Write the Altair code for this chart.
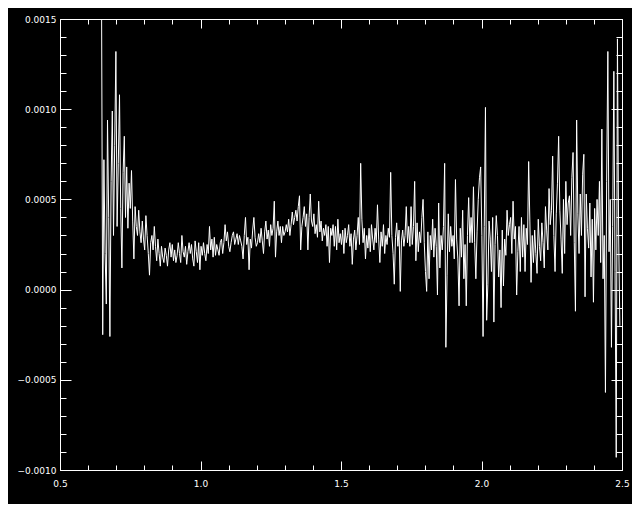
import altair as alt
import pandas as pd
import numpy as np

# sample grid (evenly spaced abscissa)
x_start = 0.6477
x_step = 0.004270

# signal values, in units of 1e-4
y_e4 = [
    17.0, -2.5, 7.2, 2.0, -0.8, 9.4, 4.0, -2.6, 6.0, 9.9,
    3.0, 8.0, 13.2, 3.5, 7.0, 10.8, 4.5, 1.2, 6.5, 8.5,
    4.0, 6.8, 3.4, 5.9, 4.5, 6.6, 3.8, 1.7, 4.6, 3.5,
    3.0, 4.4, 3.2, 2.6, 3.8, 2.8, 2.2, 4.1, 3.0, 2.0,
    0.8, 2.6, 3.0, 2.2, 3.5, 2.4, 1.6, 2.8, 2.0, 1.3,
    2.4, 1.8, 1.5, 2.3, 1.9, 1.3, 2.2, 2.6, 1.8, 2.5,
    1.6, 2.2, 1.5, 1.9, 2.6, 2.0, 1.5, 3.0, 2.1, 1.8,
    2.4, 1.4, 2.1, 2.6, 2.0, 2.5, 1.7, 1.3, 2.7, 2.1,
    1.5, 2.6, 1.1, 2.4, 1.9, 2.6, 2.0, 1.6, 2.5, 2.0,
    3.5, 2.2, 2.8, 1.8, 2.9, 1.9, 2.5, 2.2, 1.9, 2.6,
    2.8, 2.0, 2.6, 3.6, 2.7, 3.2, 2.4, 2.1, 2.6, 3.0,
    3.2, 2.5, 2.8, 3.1, 2.5, 3.0, 2.7, 2.4, 1.7, 3.0,
    4.0, 2.5, 2.9, 1.1, 2.8, 2.3, 3.3, 4.0, 2.9, 2.4,
    2.6, 3.1, 2.6, 3.4, 2.7, 2.0, 3.2, 3.8, 2.8, 3.3,
    2.4, 3.6, 3.0, 3.4, 4.9, 1.8, 3.2, 3.8, 3.0, 3.5,
    2.6, 3.5, 3.0, 3.2, 3.6, 3.2, 3.9, 3.0, 3.6, 4.3,
    3.6, 4.0, 4.4, 3.8, 4.6, 5.2, 2.2, 3.5, 4.0, 4.6,
    3.5, 4.2, 2.2, 4.0, 5.3, 3.8, 3.5, 4.2, 3.1, 3.6,
    2.9, 4.9, 3.2, 3.8, 2.7, 3.4, 3.0, 3.6, 2.4, 3.5,
    1.5, 3.4, 3.0, 3.6, 2.4, 3.5, 2.2, 3.9, 2.6, 3.1,
    2.5, 3.3, 2.0, 3.4, 2.6, 3.0, 3.6, 2.4, 3.1, 1.4,
    2.8, 3.3, 2.2, 3.0, 4.0, 2.5, 7.0, 3.9, 2.6, 3.4,
    1.7, 3.0, 2.3, 3.4, 2.1, 3.6, 2.8, 2.2, 3.4, 2.6,
    4.7, 2.8, 1.5, 3.2, 2.4, 3.6, 2.0, 3.0, 2.5, 3.4,
    2.9, 6.5, 3.0, 2.0, 0.3, 2.9, 3.7, 2.4, 3.3, -0.1,
    2.7, 3.3, 2.4, 3.0, 4.6, 2.6, 3.5, 2.4, 4.6, 2.5,
    3.5, 6.0, 1.6, 3.7, 2.1, 3.2, 2.6, 4.0, 5.0, 2.6,
    1.0, -0.1, 3.2, 0.6, 3.0, 2.2, 3.9, 1.8, 3.4, 2.4,
    -0.3, 4.8, 1.2, 3.0, 2.2, 3.5, 7.0, -3.2, 0.8, 4.2,
    2.1, 3.5, 2.4, 3.0, 1.7, 6.1, 2.8, 1.7, -0.9, 3.4,
    1.8, 4.4, 0.6, 2.5, -0.9, 3.0, 5.1, 2.6, 4.0, 2.6,
    5.7, 2.6, 0.6, 3.2, 5.0, 6.2, 6.8, 3.0, -2.6, 3.5,
    10.1, -1.7, 0.3, 3.8, 2.8, 1.0, 4.0, -1.8, 2.5, 4.1,
    3.0, 0.7, 2.2, -1.0, 3.3, 0.2, 2.8, 1.9, 4.4, 3.0,
    3.6, 4.0, 2.0, 4.9, 2.8, 3.5, -0.3, 2.1, 3.5, 1.0,
    4.0, 1.8, 3.6, 1.0, 3.4, 2.5, 7.1, 3.8, 0.4, 3.0,
    1.5, 3.3, 2.0, 0.9, 3.9, 2.4, 1.6, 3.7, 2.6, 1.2,
    4.6, 3.3, 2.2, 5.6, 3.6, 4.4, 7.4, 3.0, 1.0, 4.2,
    5.9, 8.5, 4.4, 2.8, 0.9, 5.0, 2.0, 6.0, 3.6, 4.8,
    5.2, 3.0, 6.2, 7.6, 2.6, -1.2, 9.4, 4.2, 2.0, 5.3,
    3.0, 6.4, 7.5, -0.4, 5.3, 3.4, 2.3, 4.8, 0.7, 3.9,
    -0.7, 4.5, 2.2, 5.0, 3.0, 6.0, 1.5, 8.9, 0.6, 3.0,
    -5.7, 6.0, 13.2, 2.1, 5.0, -3.2, 3.5, 12.1, 1.0, -9.3,
    13.9, 3.0, -2.0,
]

x_major = [0.5, 1.0, 1.5, 2.0, 2.5]
x_minor = [round(0.5 + 0.1 * k, 1) for k in range(21)]
y_major = [-0.0010, -0.0005, 0.0, 0.0005, 0.0010, 0.0015]
y_minor = [round(-0.0010 + 0.0001 * k, 4) for k in range(26)]

df = pd.DataFrame({
    "x": x_start + x_step * np.arange(len(y_e4)),
    "y": np.array(y_e4) * 1e-4,
})

xs = alt.Scale(domain=[0.5, 2.5], nice=False, zero=False)
ys = alt.Scale(domain=[-0.0010, 0.0015], nice=False, zero=False)


def tick_axis(orient, values, size):
    return alt.Axis(orient=orient, values=values, labels=False, domain=False,
                    grid=False, ticks=True, tickSize=size, offset=-size,
                    tickColor="white", tickWidth=1, title=None)


line = alt.Chart(df).mark_line(color="white", strokeWidth=1, clip=True).encode(
    x=alt.X("x:Q", scale=xs,
            axis=alt.Axis(orient="bottom", values=x_major, format=".1f",
                          ticks=False, domain=False, grid=False, title=None,
                          labelPadding=9, labelFlush=False, labelOverlap=False)),
    y=alt.Y("y:Q", scale=ys,
            axis=alt.Axis(orient="left", values=y_major, format=".4f",
                          ticks=False, domain=False, grid=False, title=None,
                          labelPadding=4, labelFlush=False, labelOverlap=False)),
)


def hidden(xaxis, yaxis):
    return alt.Chart(df).mark_line(strokeOpacity=0).encode(
        x=alt.X("x:Q", scale=xs, axis=xaxis),
        y=alt.Y("y:Q", scale=ys, axis=yaxis),
    )


t1 = hidden(tick_axis("bottom", x_major, 9), tick_axis("left", y_major, 11))
t2 = hidden(tick_axis("bottom", x_minor, 5), tick_axis("left", y_minor, 6))
t3 = hidden(tick_axis("top", x_major, 9), tick_axis("right", y_major, 11))
t4 = hidden(tick_axis("top", x_minor, 5), tick_axis("right", y_minor, 6))

chart = alt.layer(line, t1, t2, t3, t4).resolve_axis(
    x="independent", y="independent"
).properties(
    width=562, height=451, autosize="none",
    padding={"left": 52, "top": 11, "right": 10, "bottom": 34},
    background="black",
).configure_view(
    stroke="white", strokeWidth=1
).configure_axis(
    labelColor="white", labelFont="DejaVu Sans", labelFontSize=9,
    tickColor="white",
)

chart.save("out.html", embed_options={"renderer": "svg", "actions": False})
